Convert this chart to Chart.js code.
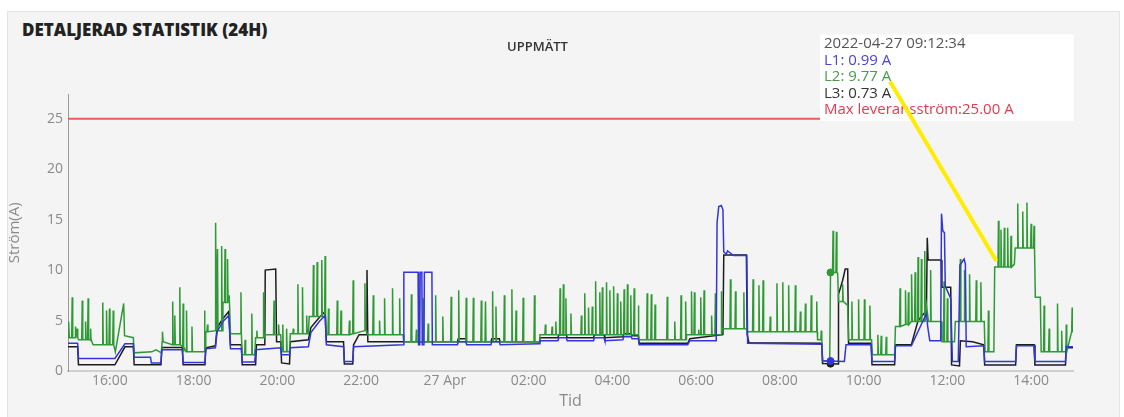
<!DOCTYPE html>
<html>
<head>
<meta charset="utf-8">
<script src="https://cdn.jsdelivr.net/npm/chart.js@4.4.0/dist/chart.umd.min.js"></script>
<style>
  html, body { margin: 0; padding: 0; background: #fff; }
  body { width: 1124px; height: 417px; position: relative; overflow: hidden; font-family: 'Open Sans', sans-serif; }
  .card { position: absolute; left: 7px; top: 11px; right: 4px; bottom: -5px; background: #f4f4f4; border: 1px solid #e4e4e4; }
  .card h2 { position: absolute; left: 14px; top: 6px; margin: 0; font-size: 17px; font-weight: 800; color: #222; }
  .wrap { position: absolute; left: 0; top: 0; width: 1124px; height: 417px; }
</style>
</head>
<body>
<div class="card"><h2>DETALJERAD STATISTIK (24H)</h2></div>
<div class="wrap"><canvas id="chart"></canvas></div>
<script>
// time axis in hours counted from 2022-04-26 00:00
const X_MIN = 15, X_MAX = 39;
const X_TICKS = [16, 18, 20, 22, 24, 26, 28, 30, 32, 34, 36, 38];
const Y_TICKS = [0, 5, 10, 15, 20, 25];
const Y_MAX = 27.4;
const MAX_CURRENT = 25;
const HOVER_TIME = 33 + 12 / 60 + 34 / 3600; // 2022-04-27 09:12:34

// L1 (blue), breakpoints [hour, A]
const L1 = [
  [15.0, 2.75], [15.23, 2.75], [15.25, 1.25], [16.12, 1.25], [16.36, 2.7], [16.56, 2.7], [16.58, 1.37],
  [16.97, 1.37], [16.99, 0.8], [17.22, 0.8], [17.24, 2.1], [17.73, 2.1], [17.75, 0.85], [18.27, 0.85],
  [18.29, 2.2], [18.52, 2.3], [18.56, 3.9], [18.7, 4.9], [18.84, 5.5], [18.88, 2.2], [19.14, 2.2],
  [19.16, 0.9], [19.46, 0.9], [19.48, 2.1], [20.08, 2.3], [20.1, 1.6], [20.29, 1.6], [20.31, 2.3],
  [20.74, 2.4], [20.8, 3.8], [21.0, 4.9], [21.14, 5.5], [21.17, 2.6], [21.58, 2.4], [21.6, 0.95],
  [21.8, 0.95], [21.82, 2.4], [23.01, 2.6], [23.02, 9.8], [23.36, 9.8], [23.37, 2.6], [23.4, 2.6],
  [23.41, 9.8], [23.45, 9.8], [23.46, 2.6], [23.5, 2.6], [23.51, 9.8], [23.69, 9.8], [23.7, 2.6],
  [24.3, 2.6], [24.32, 2.9], [24.5, 2.9], [24.52, 2.6], [25.1, 2.6], [25.12, 2.9], [25.3, 2.9], [25.32, 2.6],
  [26.25, 2.7], [26.27, 3.0], [26.7, 3.0], [26.72, 3.3], [26.9, 3.3], [26.92, 3.0], [27.55, 3.0],
  [27.57, 3.3], [27.8, 3.3], [27.82, 3.0], [28.25, 3.1], [28.27, 3.4], [28.45, 3.4], [28.47, 3.2],
  [28.62, 3.2], [28.64, 2.6], [29.8, 2.6], [29.85, 3.0], [30.48, 3.0],
  [30.5, 14.7], [30.54, 16.3], [30.6, 16.4], [30.64, 16.0], [30.66, 11.8], [30.72, 11.6], [30.75, 11.9],
  [30.85, 11.6], [30.9, 11.45], [31.21, 11.45], [31.23, 2.75], [33.0, 2.65], [33.02, 1.0], [HOVER_TIME, 0.99],
  [33.54, 0.95], [33.58, 2.6], [34.18, 2.6], [34.2, 0.95], [34.74, 0.95], [34.76, 2.5], [35.14, 2.5],
  [35.5, 5.7], [35.53, 4.4], [35.58, 3.0], [35.84, 3.0], [35.86, 15.6], [35.89, 13.9], [35.93, 13.7],
  [35.95, 8.4], [36.08, 7.2], [36.12, 0.95], [36.26, 0.95], [36.3, 10.5], [36.4, 11.1], [36.43, 10.6],
  [36.45, 2.4], [36.87, 2.5], [36.89, 0.95], [37.63, 0.95], [37.65, 2.5], [38.07, 2.5], [38.09, 0.95],
  [38.82, 0.95], [38.84, 2.4], [39.0, 2.4]
];

// L2 (green): base level breakpoints plus short spikes [hour, peak A]
const L2_BASE = [
  [15.0, 3.3], [15.25, 3.1], [15.55, 3.0], [15.6, 2.6], [16.13, 1.9], [16.33, 6.7], [16.35, 3.5],
  [16.56, 3.3], [16.58, 1.8], [17.0, 1.9], [17.1, 2.1], [17.23, 1.8], [17.25, 2.9], [17.5, 2.6],
  [17.74, 2.4], [17.76, 1.9], [18.27, 1.9], [18.29, 3.9], [18.52, 4.0], [18.7, 6.8], [18.85, 7.5],
  [18.88, 3.7], [19.14, 3.7], [19.16, 1.6], [19.46, 1.6], [19.48, 3.3], [19.7, 3.6], [20.08, 3.6],
  [20.1, 1.9], [20.29, 1.9], [20.31, 3.7], [20.74, 3.7], [20.76, 5.4], [21.15, 6.5], [21.17, 3.6],
  [21.8, 3.7], [21.82, 4.0], [22.13, 4.0], [22.15, 3.6], [23.0, 3.6], [23.02, 2.9], [26.25, 2.9],
  [26.27, 3.6], [28.62, 3.6], [28.64, 3.1], [29.75, 3.1], [29.77, 3.6], [30.6, 3.6], [30.62, 4.2],
  [31.2, 4.2], [31.22, 3.9], [32.9, 3.1], [33.0, 3.1], [33.02, 1.0], [33.19, 1.0], [HOVER_TIME, 9.77],
  [33.38, 9.7], [33.4, 6.9], [33.62, 6.5], [33.64, 3.1], [34.19, 3.1], [34.21, 1.6], [34.74, 1.6],
  [34.76, 4.4], [35.0, 4.6], [35.14, 4.9], [35.5, 6.5], [35.55, 4.9], [35.85, 4.9], [35.87, 2.9],
  [36.17, 2.9], [36.19, 4.9], [36.88, 4.9], [36.9, 1.9], [37.11, 1.9], [37.13, 10.3], [37.6, 10.6],
  [37.62, 12.2], [38.08, 12.2], [38.1, 7.3], [38.22, 7.3], [38.24, 1.9], [38.83, 1.9], [38.85, 3.9],
  [39.0, 3.9]
];
const L2_SPIKES = [
  [15.02, 4.9], [15.1, 7.3], [15.18, 4.4], [15.22, 4.2], [15.34, 7.0], [15.42, 4.9], [15.48, 7.2],
  [15.54, 4.2], [15.83, 6.8], [15.92, 6.0], [15.99, 6.2], [16.08, 6.0],
  [17.26, 3.9], [17.5, 6.9], [17.55, 5.5], [17.67, 8.3], [17.75, 6.7], [17.83, 6.0], [17.96, 4.4],
  [18.26, 6.0], [18.33, 4.6], [18.53, 14.7], [18.57, 12.1], [18.67, 12.4], [18.75, 12.1], [18.81, 11.1],
  [19.13, 7.8], [19.23, 3.1], [19.39, 5.7], [19.51, 4.0], [19.67, 7.8], [19.92, 7.0], [20.03, 4.6],
  [20.13, 4.6], [20.22, 4.2], [20.38, 4.2], [20.49, 8.6], [20.6, 8.3], [20.7, 5.5], [20.86, 10.5],
  [20.95, 10.8], [21.06, 11.0], [21.14, 11.4], [21.22, 6.2], [21.43, 7.0], [21.52, 6.0], [21.72, 5.0],
  [21.81, 9.0], [22.09, 8.7], [22.29, 7.5], [22.44, 5.0], [22.56, 7.2], [22.75, 8.2], [22.92, 7.2],
  [23.2, 7.6], [23.32, 4.1], [23.48, 7.2], [23.6, 4.7], [23.78, 7.5], [23.95, 5.4], [24.15, 7.35],
  [24.33, 8.0], [24.51, 7.25], [24.68, 7.25], [24.87, 7.0], [24.97, 6.9], [25.14, 7.9], [25.22, 6.4],
  [25.42, 7.5], [25.6, 8.1], [25.7, 6.0], [25.87, 7.25], [26.14, 7.5], [26.4, 4.6], [26.56, 4.4],
  [26.65, 4.9], [26.75, 8.2], [26.83, 8.6], [26.89, 7.2], [27.01, 5.7], [27.26, 5.5], [27.34, 7.7],
  [27.43, 6.3], [27.52, 6.4], [27.6, 8.9], [27.7, 7.8], [27.76, 8.3], [27.86, 8.8], [27.94, 8.0],
  [28.03, 8.4], [28.12, 7.7], [28.2, 6.9], [28.28, 8.1], [28.36, 8.6], [28.44, 7.5], [28.52, 8.2],
  [28.62, 6.5], [28.83, 7.7], [28.93, 7.6], [29.02, 6.6], [29.31, 7.35], [29.49, 4.9], [29.64, 7.5],
  [29.75, 6.9], [29.89, 7.9], [29.96, 7.8], [30.06, 4.1], [30.11, 7.3], [30.19, 8.0], [30.37, 5.5],
  [30.46, 7.7], [30.6, 7.9], [30.82, 9.1], [30.94, 7.9], [31.14, 7.8], [31.36, 9.1], [31.5, 8.5],
  [31.6, 9.0], [31.77, 5.4], [31.93, 8.7], [32.07, 8.8], [32.21, 8.5], [32.37, 8.5], [32.49, 5.9],
  [32.61, 6.7], [32.75, 7.5], [32.88, 6.9], [32.99, 4.0], [33.27, 13.9], [33.35, 13.8], [33.5, 8.6],
  [33.72, 6.9], [33.88, 7.1], [34.02, 7.1], [34.15, 6.5], [34.34, 3.6], [34.42, 3.5], [34.54, 3.4],
  [34.87, 8.2], [35.0, 8.0], [35.07, 7.8], [35.15, 9.6], [35.23, 9.8], [35.3, 11.3], [35.38, 11.1],
  [35.46, 11.9], [35.6, 10.0], [35.92, 8.9], [36.0, 7.2], [36.31, 11.1], [36.41, 10.0], [36.53, 9.6],
  [36.69, 9.0], [36.8, 8.8], [36.98, 6.0], [37.22, 14.9], [37.28, 14.0], [37.36, 14.2], [37.44, 14.2],
  [37.52, 13.4], [37.68, 16.6], [37.8, 15.8], [37.9, 16.7], [38.0, 14.6], [38.07, 14.4], [38.31, 6.5],
  [38.43, 4.2], [38.63, 6.7], [38.73, 4.0], [38.84, 4.6], [38.98, 6.3]
];

// L3 (black), breakpoints [hour, A]
const L3 = [
  [15.0, 2.4], [15.23, 2.4], [15.25, 0.62], [16.12, 0.62], [16.36, 2.4], [16.56, 2.4], [16.58, 0.62],
  [17.22, 0.62], [17.24, 2.33], [17.73, 2.33], [17.75, 0.62], [18.27, 0.62], [18.29, 2.3], [18.52, 2.5],
  [18.56, 4.3], [18.7, 5.2], [18.84, 5.9], [18.88, 2.6], [19.14, 2.6], [19.16, 0.62], [19.48, 0.62],
  [19.5, 2.6], [19.7, 2.6], [19.71, 10.0], [19.96, 10.1], [19.98, 2.9], [20.08, 2.9], [20.1, 0.8],
  [20.29, 0.7], [20.31, 2.9], [20.74, 3.1], [20.8, 4.3], [21.0, 5.3], [21.14, 5.9], [21.17, 2.9],
  [21.58, 2.9], [21.6, 0.7], [21.8, 0.7], [21.82, 2.6], [21.95, 3.6], [22.13, 3.6], [22.14, 10.0],
  [22.16, 2.9], [24.3, 2.9], [24.32, 3.2], [24.5, 3.2], [24.52, 2.9], [25.1, 2.9], [25.12, 3.2],
  [25.3, 3.2], [25.32, 2.9], [26.25, 2.9], [26.27, 3.3], [26.7, 3.3], [26.72, 3.6], [26.9, 3.6],
  [26.92, 3.3], [27.55, 3.3], [27.57, 3.6], [27.8, 3.6], [27.82, 3.3], [28.25, 3.4], [28.27, 3.7],
  [28.45, 3.7], [28.47, 3.5], [28.62, 3.5], [28.64, 2.75], [29.8, 2.75], [29.85, 3.2],
  [30.64, 3.6], [30.66, 11.5], [31.2, 11.5], [31.22, 3.6], [31.26, 2.8], [33.0, 2.75], [33.02, 0.75],
  [HOVER_TIME, 0.73], [33.39, 0.7], [33.4, 7.6], [33.5, 9.0], [33.56, 10.1], [33.62, 10.1], [33.64, 2.75],
  [34.18, 2.75], [34.2, 0.62], [34.74, 0.62], [34.76, 2.6], [35.14, 2.6], [35.3, 5.0], [35.5, 6.0],
  [35.52, 13.2], [35.54, 11.0], [35.85, 11.0], [35.87, 8.3], [36.08, 8.3], [36.1, 0.6], [36.29, 0.5],
  [36.31, 3.0], [36.6, 2.9], [36.87, 2.6], [36.89, 0.6], [37.63, 0.6], [37.65, 2.6], [38.07, 2.6],
  [38.09, 0.6], [38.82, 0.6], [38.84, 2.3], [39.0, 2.3]
];

const ARROW_END = [37.17, 10.9];

function toPoints(list) {
  return list.map(([x, y]) => ({ x, y }));
}

// each spike rises from and returns to the base level read just before it
function withSpikes(base, spikes) {
  const pts = toPoints(base);
  spikes.forEach(([x, peak]) => {
    let lvl = base[0][1];
    for (const [bx, by] of base) {
      if (bx <= x) lvl = by; else break;
    }
    pts.push({ x: x - 0.012, y: lvl }, { x, y: peak }, { x: x + 0.012, y: lvl });
  });
  return pts.sort((a, b) => a.x - b.x);
}

function stamp(h) {
  const s = Math.round(h * 3600);
  const r = s % 86400;
  const p = n => String(n).padStart(2, '0');
  return '2022-04-' + (26 + Math.floor(s / 86400)) + ' ' +
    p(Math.floor(r / 3600)) + ':' + p(Math.floor((r % 3600) / 60)) + ':' + p(r % 60);
}

Chart.defaults.font.family = "'Open Sans', sans-serif";

Chart.Tooltip.positioners.corner = function () {
  const a = this.chart.chartArea;
  return { x: a.right - 253, y: a.top - 60 };
};

const arrowPlugin = {
  id: 'arrow',
  afterDraw(chart) {
    const tt = chart.tooltip;
    if (!tt || !tt.opacity) return;
    const { ctx, scales } = chart;
    ctx.save();
    ctx.strokeStyle = '#ffec00';
    ctx.lineWidth = 4;
    ctx.beginPath();
    ctx.moveTo(tt.x + 70, tt.y + 47);
    ctx.lineTo(scales.x.getPixelForValue(ARROW_END[0]), scales.y.getPixelForValue(ARROW_END[1]));
    ctx.stroke();
    ctx.restore();
  }
};

const TEXT_COLORS = ['#4646d6', '#4a9a4a', '#333333', '#e23a50'];

const line = (label, data, color, extra) => Object.assign({
  label, data, borderColor: color, backgroundColor: color,
  borderWidth: 1.5, pointRadius: 0, pointHoverRadius: 3.5, pointHoverBorderWidth: 1,
  pointHoverBackgroundColor: color, pointHoverBorderColor: color, tension: 0, fill: false
}, extra || {});

const chart = new Chart(document.getElementById('chart'), {
  type: 'line',
  data: {
    datasets: [
      line('L1', toPoints(L1), '#3434dc'),
      line('L2', withSpikes(L2_BASE, L2_SPIKES), '#2f9a35'),
      line('L3', toPoints(L3), '#1c1c1c'),
      line('Max leveransström', toPoints([[X_MIN, MAX_CURRENT], [X_MAX, MAX_CURRENT]]), '#f25a5a',
        { borderWidth: 2, pointHoverRadius: 0 })
    ]
  },
  options: {
    responsive: true,
    maintainAspectRatio: false,
    animation: false,
    events: [],
    layout: { padding: { left: 2, right: 51, top: 0, bottom: 2 } },
    scales: {
      x: {
        type: 'linear', min: X_MIN, max: X_MAX,
        afterBuildTicks: axis => { axis.ticks = X_TICKS.map(value => ({ value })); },
        grid: { display: false, drawTicks: false },
        border: { display: true, color: '#cfcfcf', width: 2 },
        ticks: {
          color: '#8a8a8a', font: { size: 14 }, padding: 2, maxRotation: 0, autoSkip: false,
          callback: v => v % 24 === 0 ? (26 + v / 24) + ' Apr' : String(v % 24).padStart(2, '0') + ':00'
        },
        title: { display: true, text: 'Tid', color: '#8a8a8a', font: { size: 16 }, padding: { top: 0, bottom: 4 } }
      },
      y: {
        min: 0, max: Y_MAX,
        afterBuildTicks: axis => { axis.ticks = Y_TICKS.map(value => ({ value })); },
        grid: { display: false, drawTicks: false },
        border: { display: true, color: '#9a9a9a', width: 1 },
        ticks: { color: '#8a8a8a', font: { size: 14 }, padding: 5 },
        title: { display: true, text: 'Ström(A)', color: '#8a8a8a', font: { size: 15 }, padding: { top: 4, bottom: 18 } }
      }
    },
    plugins: {
      legend: { display: false },
      title: {
        display: true, text: 'UPPMÄTT', color: '#333', font: { size: 13, weight: '600' },
        padding: { top: 39, bottom: 40 }
      },
      tooltip: {
        position: 'corner', xAlign: 'left', yAlign: 'top',
        backgroundColor: '#ffffff', cornerRadius: 0, caretSize: 0, caretPadding: 0,
        displayColors: false, borderWidth: 0,
        padding: { left: 4, right: 60, top: 1, bottom: 3 },
        titleColor: '#555', titleFont: { size: 15, weight: 'normal', lineHeight: 1.1 }, titleMarginBottom: 0,
        bodyFont: { size: 15, lineHeight: 1.1 }, bodySpacing: 0,
        callbacks: {
          title: items => stamp(items[0].parsed.x),
          label: item => item.dataset.label + (item.datasetIndex === 3 ? ':' : ': ') + item.parsed.y.toFixed(2) + ' A',
          labelTextColor: item => TEXT_COLORS[item.datasetIndex]
        }
      }
    }
  },
  plugins: [arrowPlugin]
});

const active = chart.data.datasets.map((ds, i) => ({
  datasetIndex: i,
  index: Math.max(0, ds.data.findIndex(p => p.x === HOVER_TIME))
}));
chart.setActiveElements(active);
chart.tooltip.setActiveElements(active, { x: 0, y: 0 });
chart.update();
</script>
</body>
</html>
